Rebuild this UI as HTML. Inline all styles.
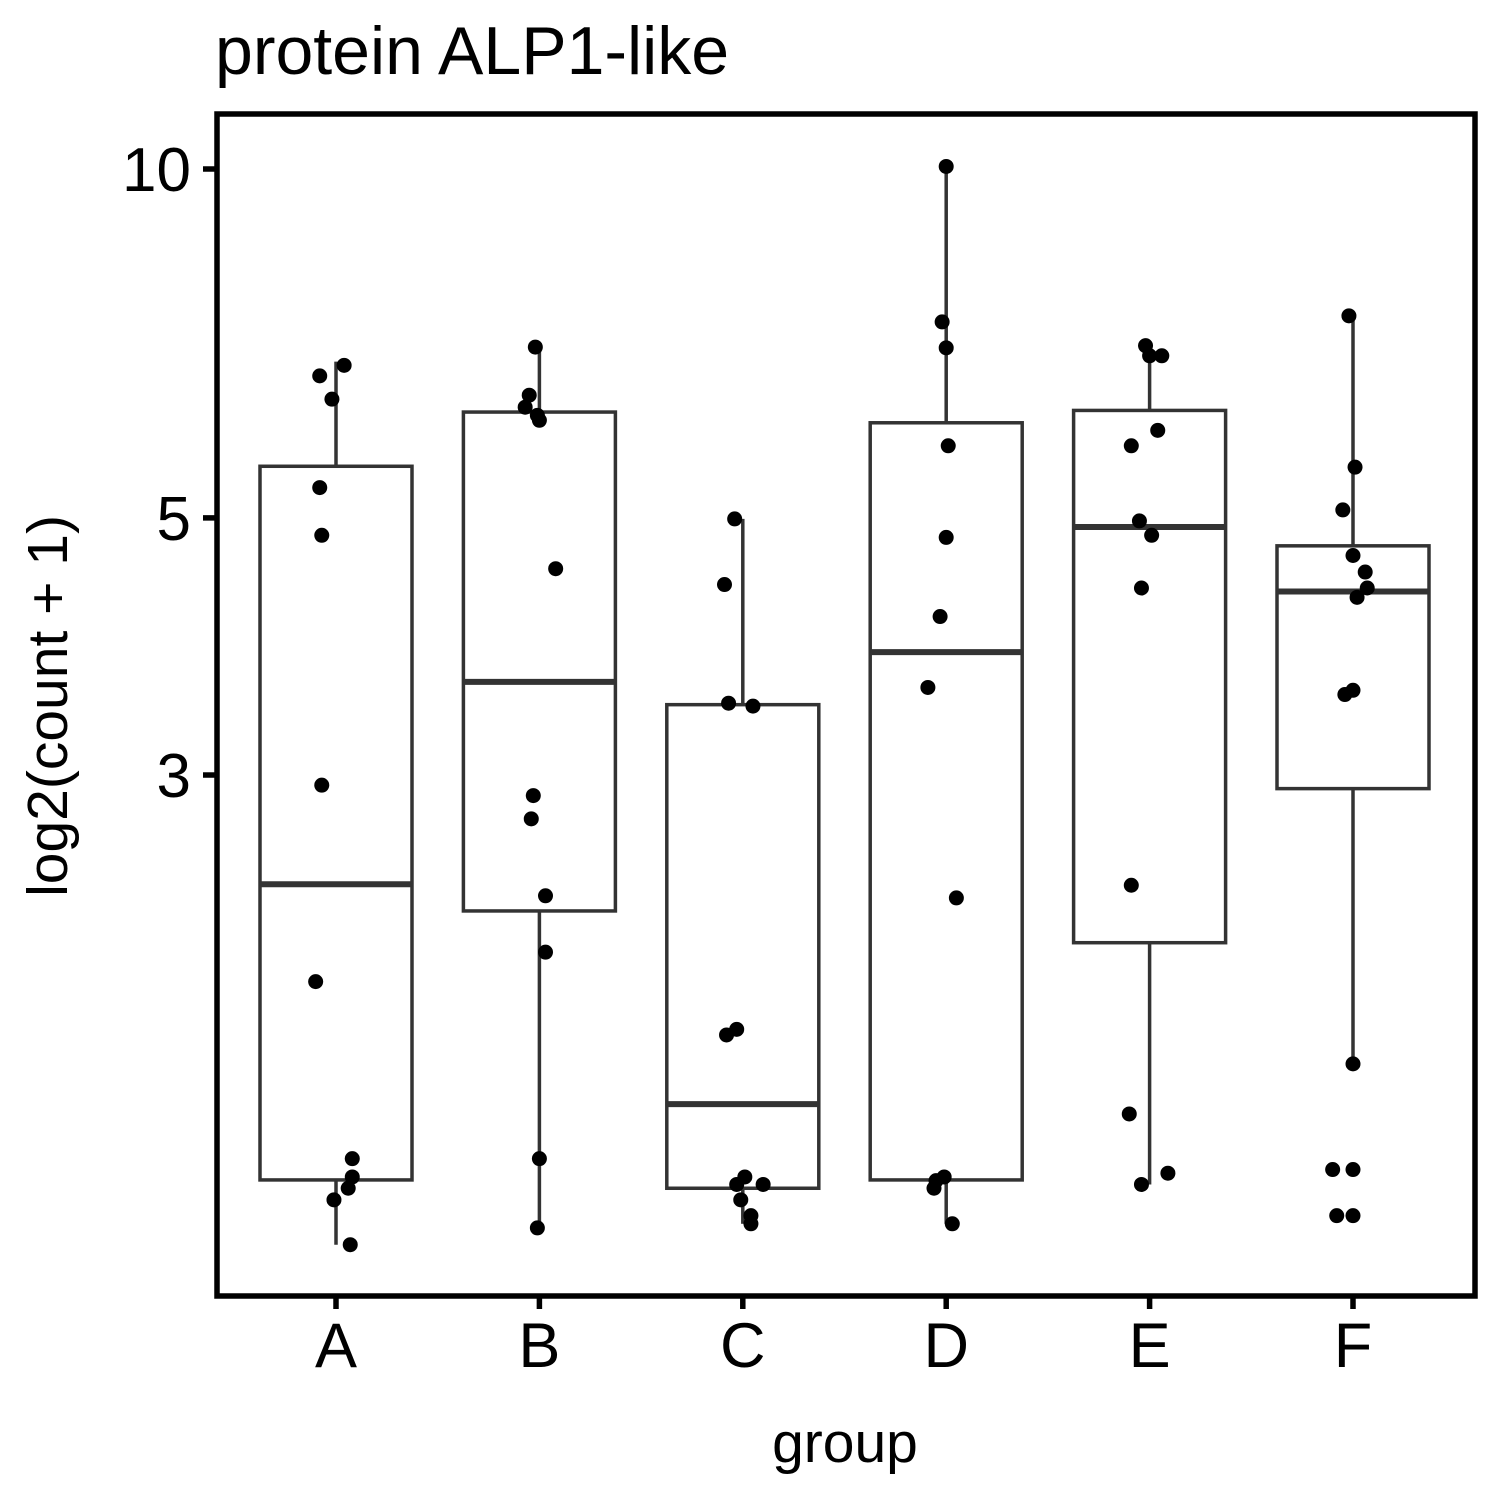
<!DOCTYPE html>
<html><head><meta charset="utf-8"><style>
html,body{margin:0;padding:0;background:#fff;}
svg{display:block;font-family:"Liberation Sans",Arial,sans-serif;}
</style></head><body>
<svg id="chart" width="1500" height="1500" viewBox="0 0 1500 1500">
<text x="215" y="74" font-size="68" fill="#000">protein ALP1-like</text>
<text x="845" y="1462" font-size="57" text-anchor="middle" fill="#000">group</text>
<text transform="translate(67,706) rotate(-90)" font-size="57" text-anchor="middle" fill="#000">log2(count + 1)</text>
<g id="plot"></g>
<rect x="217" y="114" width="1258" height="1182" fill="none" stroke="#000" stroke-width="5.5"/>
</svg>
<script>
const categories = ["A","B","C","D","E","F"];
const boxLower = [1.342, 2.29, 1.32, 1.342, 2.15, 2.92];
const boxMedian = [2.415, 3.61, 1.56, 3.83, 4.91, 4.32];
const boxUpper = [5.54, 6.17, 3.45, 6.04, 6.19, 4.73];
const whiskerLow = [1.18, 1.22, 1.23, 1.23, 1.33, 1.69];
const whiskerHigh = [6.82, 7.02, 4.99, 10.05, 7.06, 7.47];
const pointsA = [6.63,6.77,6.33,5.31,4.83,2.94,1.99,1.40,1.35,1.32,1.29,1.18];
const jitterA = [-0.08,0.04,-0.02,-0.08,-0.07,-0.07,-0.1,0.08,0.08,0.06,-0.01,0.07];
const pointsB = [7.02,6.38,6.23,6.13,6.07,4.52,2.88,2.75,2.36,2.11,1.40,1.22];
const jitterB = [-0.02,-0.05,-0.07,-0.01,0.0,0.08,-0.03,-0.04,0.03,0.03,0.0,-0.01];
const pointsC = [4.99,4.38,3.46,3.44,1.81,1.79,1.35,1.33,1.33,1.29,1.25,1.23];
const jitterC = [-0.04,-0.09,-0.07,0.05,-0.03,-0.08,0.01,0.1,-0.03,-0.01,0.04,0.04];
const pointsD = [10.05,7.38,7.01,5.77,4.81,4.11,3.57,2.35,1.35,1.34,1.32,1.23];
const jitterD = [0.0,-0.02,0.0,0.01,0.0,-0.03,-0.09,0.05,-0.01,-0.05,-0.06,0.03];
const pointsE = [7.04,6.90,6.90,5.95,5.77,4.97,4.83,4.35,2.41,1.53,1.36,1.33];
const jitterE = [-0.02,0.0,0.06,0.04,-0.09,-0.05,0.01,-0.04,-0.09,-0.1,0.09,-0.04];
const pointsF = [7.47,5.53,5.08,4.64,4.49,4.35,4.27,3.55,3.52,1.69,1.37,1.37,1.25,1.25];
const jitterF = [-0.02,0.01,-0.05,0.0,0.06,0.07,0.02,0.0,-0.04,0.0,-0.1,0.0,-0.08,0.0];
const yTicks = [3,5,10];
const yTickLabels = ["3","5","10"];

const allPoints=[pointsA,pointsB,pointsC,pointsD,pointsE,pointsF];
const allJitter=[jitterA,jitterB,jitterC,jitterD,jitterE,jitterF];
const NS="http://www.w3.org/2000/svg";
const g=document.getElementById('plot');
function yScale(v){return 1328-Math.log10(v)*1159;}
function xScale(i){return 336+i*203.4;}
const bw=152;
function mk(tag,attrs,parent){const e=document.createElementNS(NS,tag);for(const k in attrs)e.setAttribute(k,attrs[k]);(parent||g).appendChild(e);return e;}
yTicks.forEach((t,i)=>{
  const y=yScale(t);
  const l=mk('line',{x1:203,x2:217,y1:y,y2:y,stroke:'#000','stroke-width':5.5});
  
  
  const tx=mk('text',{x:191,y:y+22,'font-size':62,'text-anchor':'end',fill:'#000'});
  tx.textContent=yTickLabels[i];
  
  
});
categories.forEach((c,i)=>{
  const x=xScale(i);
  const grp=mk('g',{});
  
  
  mk('line',{x1:x,x2:x,y1:yScale(whiskerHigh[i]),y2:yScale(boxUpper[i]),stroke:'#333','stroke-width':3.5},grp);
  mk('line',{x1:x,x2:x,y1:yScale(boxLower[i]),y2:yScale(whiskerLow[i]),stroke:'#333','stroke-width':3.5},grp);
  mk('rect',{x:x-bw/2,y:yScale(boxUpper[i]),width:bw,height:yScale(boxLower[i])-yScale(boxUpper[i]),fill:'#fff',stroke:'#333','stroke-width':3.5},grp);
  mk('line',{x1:x-bw/2,x2:x+bw/2,y1:yScale(boxMedian[i]),y2:yScale(boxMedian[i]),stroke:'#333','stroke-width':6},grp);
  const tk=mk('line',{x1:x,x2:x,y1:1296,y2:1309,stroke:'#000','stroke-width':5.5});
  
  
  const lb=mk('text',{x:x,y:1367,'font-size':63,'text-anchor':'middle',fill:'#000'});
  lb.textContent=c;
  
  
});
categories.forEach((c,i)=>{
  allPoints[i].forEach((v,j)=>{
    const p=mk('circle',{cx:xScale(i)+allJitter[i][j]*203.4,cy:yScale(v),r:7.5,fill:'#000'});
    
    
  });
});
</script>
</body></html>
